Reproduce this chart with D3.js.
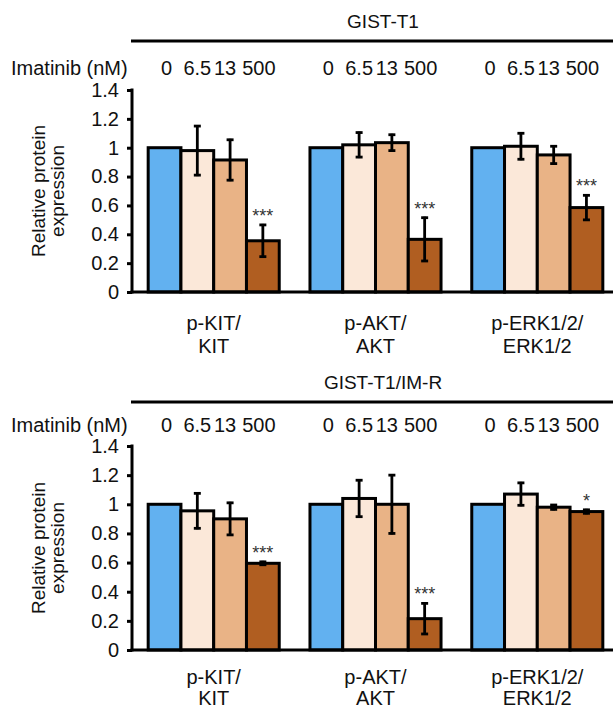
<!DOCTYPE html>
<html>
<head>
<meta charset="utf-8">
<script src="https://cdn.jsdelivr.net/npm/d3@7"></script>
<style>
  body { margin: 0; background: #fff; }
  svg { display: block; font-family: "Liberation Sans", Arial, Helvetica, sans-serif; }
</style>
</head>
<body>
<div id="chart"></div>
<script>
const doses = ["0", "6.5", "13", "500"];
const proteins = [["p-KIT/", "KIT"], ["p-AKT/", "AKT"], ["p-ERK1/2/", "ERK1/2"]];
const yTicks = [0, 0.2, 0.4, 0.6, 0.8, 1, 1.2, 1.4];

// GIST-T1 (parental)
const parentalMeans = [
  [1, 0.98, 0.915, 0.355],
  [1, 1.02, 1.035, 0.365],
  [1, 1.01, 0.95, 0.585]
];
const parentalErrors = [
  [0, 0.17, 0.14, 0.11],
  [0, 0.085, 0.055, 0.15],
  [0, 0.09, 0.06, 0.085]
];
const parentalStars = ["***", "***", "***"];

// GIST-T1/IM-R (resistant)
const resistantMeans = [
  [1, 0.955, 0.9, 0.595],
  [1, 1.04, 1.0, 0.215],
  [1, 1.07, 0.98, 0.95]
];
const resistantErrors = [
  [0, 0.12, 0.11, 0.01],
  [0, 0.125, 0.2, 0.105],
  [0, 0.077, 0.015, 0.012]
];
const resistantStars = ["***", "***", "*"];

const doseColors = ["#62b1f0", "#fbe8d9", "#e9b386", "#b05e21"];

const width = 613;
const height = 711;

const svg = d3.select("#chart")
  .append("svg")
  .attr("width", width)
  .attr("height", height)
  .attr("viewBox", `0 0 ${width} ${height}`);

svg.append("rect").attr("width", width).attr("height", height).attr("fill", "#fff");

const axisX = 132;

const groupScale = d3.scaleBand()
  .domain(d3.range(proteins.length))
  .range([axisX, 619])
  .paddingInner(0.19)
  .paddingOuter(0.1);

const doseScale = d3.scaleBand()
  .domain(doses)
  .range([0, groupScale.bandwidth()])
  .padding(0);

// small nudges so dose labels sit like the original
const doseLabelNudge = [2, 0, -5, -4];

function drawPanel(opts) {
  const { title, means, errors, stars, yTopPx, yZeroPx, titleCx, headerShift, doseShift, labelGap } = opts;
  const g = svg.append("g");

  const y = d3.scaleLinear().domain([0, 1.4]).range([yZeroPx, yTopPx]);

  // header
  g.append("text")
    .attr("x", titleCx)
    .attr("y", yTopPx - 62 + headerShift)
    .attr("text-anchor", "middle")
    .attr("font-size", 19)
    .attr("fill", "#111")
    .text(title);

  g.append("line")
    .attr("x1", 131).attr("x2", width)
    .attr("y1", yTopPx - 49 + headerShift).attr("y2", yTopPx - 49 + headerShift)
    .attr("stroke", "#000")
    .attr("stroke-width", 3);

  g.append("text")
    .attr("x", 11)
    .attr("y", yTopPx - 15 + doseShift)
    .attr("font-size", 20)
    .attr("fill", "#111")
    .text("Imatinib (nM)");

  proteins.forEach((_, gi) => {
    g.append("g")
      .selectAll("text")
      .data(doses)
      .join("text")
      .attr("x", (d, i) => groupScale(gi) + doseScale(d) + doseScale.bandwidth() / 2 + doseLabelNudge[i])
      .attr("y", yTopPx - 15 + doseShift)
      .attr("text-anchor", "middle")
      .attr("font-size", 20)
      .attr("fill", "#111")
      .text((d) => d);
  });

  // y axis
  const yAxis = d3.axisLeft(y)
    .tickValues(yTicks)
    .tickSize(5)
    .tickPadding(8)
    .tickFormat((d) => d3.format(".1f")(d).replace(/\.0$/, ""));

  const ya = g.append("g")
    .attr("transform", `translate(${axisX},0)`)
    .call(yAxis);
  ya.select(".domain").remove();
  ya.selectAll(".tick line").attr("stroke", "#000").attr("stroke-width", 3);
  ya.selectAll(".tick text")
    .attr("font-size", 20)
    .attr("fill", "#111")
    .attr("font-family", "Liberation Sans, Arial, sans-serif");

  g.append("line")
    .attr("x1", axisX).attr("x2", axisX)
    .attr("y1", yTopPx - 1.5).attr("y2", yZeroPx + 1.5)
    .attr("stroke", "#000").attr("stroke-width", 3);

  // y title
  const titleCy = (yTopPx + yZeroPx) / 2;
  const yt = g.append("text")
    .attr("transform", `translate(0,${titleCy}) rotate(-90)`)
    .attr("text-anchor", "middle")
    .attr("font-size", 19)
    .attr("fill", "#111");
  yt.append("tspan").attr("x", 0).attr("y", 45).text("Relative protein");
  yt.append("tspan").attr("x", 0).attr("y", 64).text("expression");

  // bars
  proteins.forEach((labels, gi) => {
    const gg = g.append("g").attr("transform", `translate(${groupScale(gi)},0)`);
    const rows = doses.map((d, i) => ({ dose: d, i, mean: means[gi][i], err: errors[gi][i] }));

    gg.selectAll("rect.bar")
      .data(rows)
      .join("rect")
      .attr("class", "bar")
      .attr("x", (d) => doseScale(d.dose))
      .attr("y", (d) => y(d.mean))
      .attr("width", doseScale.bandwidth())
      .attr("height", (d) => y(0) - y(d.mean))
      .attr("fill", (d) => doseColors[d.i])
      .attr("stroke", "#000")
      .attr("stroke-width", 3);

    const errRows = rows.filter((d) => d.err > 0);
    const cx = (d) => doseScale(d.dose) + doseScale.bandwidth() / 2;

    gg.selectAll("line.err")
      .data(errRows)
      .join("line")
      .attr("class", "err")
      .attr("x1", cx).attr("x2", cx)
      .attr("y1", (d) => y(d.mean + d.err) - 1)
      .attr("y2", (d) => y(d.mean - d.err) + 1)
      .attr("stroke", "#000")
      .attr("stroke-width", 2.8);

    ["top", "bottom"].forEach((side) => {
      gg.selectAll(`line.cap-${side}`)
        .data(errRows)
        .join("line")
        .attr("class", `cap-${side}`)
        .attr("x1", (d) => cx(d) - 3.5).attr("x2", (d) => cx(d) + 3.5)
        .attr("y1", (d) => y(side === "top" ? d.mean + d.err : d.mean - d.err))
        .attr("y2", (d) => y(side === "top" ? d.mean + d.err : d.mean - d.err))
        .attr("stroke", "#000")
        .attr("stroke-width", 2.8);
    });

    // significance stars over the 500 nM bar
    const last = rows[rows.length - 1];
    gg.append("text")
      .attr("x", cx(last))
      .attr("y", y(last.mean + last.err) - 3)
      .attr("text-anchor", "middle")
      .attr("font-size", 18)
      .attr("fill", "#333")
      .text(stars[gi]);

    // category labels
    const lab = gg.append("text")
      .attr("text-anchor", "middle")
      .attr("font-size", 20)
      .attr("fill", "#111");
    labels.forEach((t, li) => {
      lab.append("tspan")
        .attr("x", groupScale.bandwidth() / 2)
        .attr("y", yZeroPx + labelGap[0] + li * labelGap[1])
        .text(t);
    });
  });

  // x axis line
  g.append("line")
    .attr("x1", axisX - 1.5).attr("x2", width)
    .attr("y1", yZeroPx).attr("y2", yZeroPx)
    .attr("stroke", "#000").attr("stroke-width", 3);
}

drawPanel({
  title: "GIST-T1",
  means: parentalMeans,
  errors: parentalErrors,
  stars: parentalStars,
  yTopPx: 90,
  yZeroPx: 292,
  titleCx: 383,
  headerShift: 0,
  doseShift: 0,
  labelGap: [38, 23]
});

drawPanel({
  title: "GIST-T1/IM-R",
  means: resistantMeans,
  errors: resistantErrors,
  stars: resistantStars,
  yTopPx: 446,
  yZeroPx: 650,
  titleCx: 383,
  headerShift: 5,
  doseShift: 1,
  labelGap: [34, 21]
});
</script>
</body>
</html>
